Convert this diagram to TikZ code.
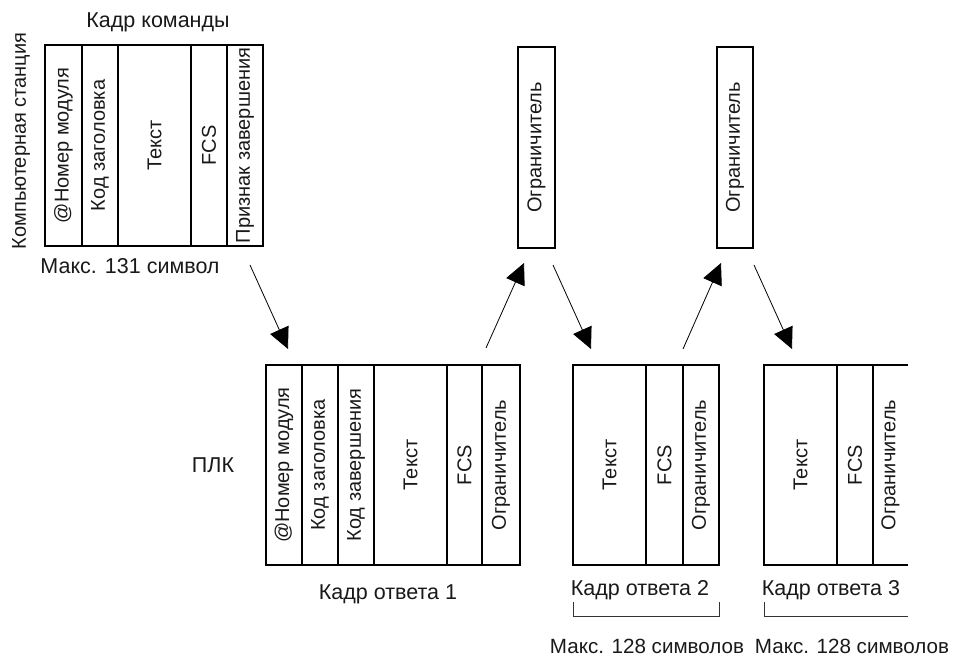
\documentclass[tikz,border=0pt]{standalone}
\usepackage{fontspec}
\setmainfont{Liberation Sans}
\usepackage{graphicx}
\usetikzlibrary{arrows.meta}
\begin{document}
\begin{tikzpicture}[x=1pt,y=-1pt,
  every node/.style={font=\fontsize{20}{24}\selectfont, text=black!90, inner sep=0pt, outer sep=0pt},
  cell/.style={draw, line width=1.6pt, anchor=north west, minimum height=200pt, align=center},
  bare/.style={anchor=north west, minimum height=200pt, align=center},
  conn/.style={line width=0.8pt, -{Triangle[length=21pt,width=20pt]}},
  brk/.style={line width=0.9pt, black!80},
  lbl/.style={font=\fontsize{21.5}{25}\selectfont}]
\useasboundingbox (0,0) rectangle (955,658);

% command frame
\node[cell, minimum width=37pt, minimum height=201pt] (cA1) at (45,45) {\rotatebox{90}{@Номер модуля}};
\node[cell, minimum width=36pt, minimum height=201pt] (cA2) at (82,45) {\rotatebox{90}{Код заголовка}};
\node[cell, minimum width=73pt, minimum height=201pt] (cA3) at (118,45) {\rotatebox{90}{Текст}};
\node[cell, minimum width=36pt, minimum height=201pt] (cA4) at (191,45) {\rotatebox{90}{FCS}};
\node[cell, minimum width=36pt, minimum height=201pt] (cA5) at (227,45) {\rotatebox{90}{Признак завершения}};
\node[lbl] (tcmd) at (158,22) {Кадр команды};
\node[rotate=90] (tpc) at (21,141) {Компьютерная станция};
\node[lbl] (tmax131) at (130,266) {Макс. 131 символ};

% delimiters at top
\node[cell, minimum width=37pt, minimum height=201pt] (d1) at (518,47) {\rotatebox{90}{Ограничитель}};
\node[cell, minimum width=36pt, minimum height=201pt] (d2) at (717,47) {\rotatebox{90}{Ограничитель}};

% response frame 1
\node[cell, minimum width=36pt] (r1a) at (266,365) {\rotatebox{90}{@Номер модуля}};
\node[cell, minimum width=36pt] (r1b) at (302,365) {\rotatebox{90}{Код заголовка}};
\node[cell, minimum width=36pt] (r1c) at (338,365) {\rotatebox{90}{Код завершения}};
\node[cell, minimum width=73pt] (r1d) at (374,365) {\rotatebox{90}{Текст}};
\node[cell, minimum width=35pt] (r1e) at (447,365) {\rotatebox{90}{FCS}};
\node[cell, minimum width=38pt] (r1f) at (482,365) {\rotatebox{90}{Ограничитель}};
\node[lbl] (t1) at (388,594) {Кадр ответа 1};
\node[lbl] (tplc) at (213,465) {ПЛК};

% response frame 2
\node[cell, minimum width=73pt] (r2a) at (573,365) {\rotatebox{90}{Текст}};
\node[cell, minimum width=37pt] (r2b) at (646,365) {\rotatebox{90}{FCS}};
\node[cell, minimum width=36pt] (r2c) at (683,365) {\rotatebox{90}{Ограничитель}};
\node[lbl] (t2) at (640,590) {Кадр ответа 2};

% response frame 3 (open on the right)
\node[cell, minimum width=73pt] (r3a) at (764,365) {\rotatebox{90}{Текст}};
\node[cell, minimum width=36pt] (r3b) at (837,365) {\rotatebox{90}{FCS}};
\node[bare, minimum width=35pt] (r3c) at (873,365) {\rotatebox{90}{Ограничитель}};
\draw[line width=1.6pt] (r3b.north east) -- (908,365);
\draw[line width=1.6pt] (r3b.south east) -- (908,565);
\node[lbl] (t3) at (831,590) {Кадр ответа 3};

% brackets
\draw[brk] (573,602) -- (573,616) -- (719,616) -- (719,602);
\draw[brk] (764,602) -- (764,616) -- (908,616);
\node[lbl, font=\fontsize{20.6}{24}\selectfont] (m1) at (647,646) {Макс. 128 символов};
\node[lbl, font=\fontsize{20.6}{24}\selectfont] (m2) at (852,646) {Макс. 128 символов};

% arrows
\coordinate (a1s) at (250,265); \coordinate (a1e) at (288,349);
\coordinate (a2s) at (486,348); \coordinate (a2e) at (524,263);
\coordinate (a3s) at (553,265); \coordinate (a3e) at (591,349);
\coordinate (a4s) at (683,349); \coordinate (a4e) at (721,263);
\coordinate (a5s) at (754,265); \coordinate (a5e) at (792,349);
\draw[conn] (a1s) -- (a1e);
\draw[conn] (a2s) -- (a2e);
\draw[conn] (a3s) -- (a3e);
\draw[conn] (a4s) -- (a4e);
\draw[conn] (a5s) -- (a5e);
\end{tikzpicture}
\end{document}
